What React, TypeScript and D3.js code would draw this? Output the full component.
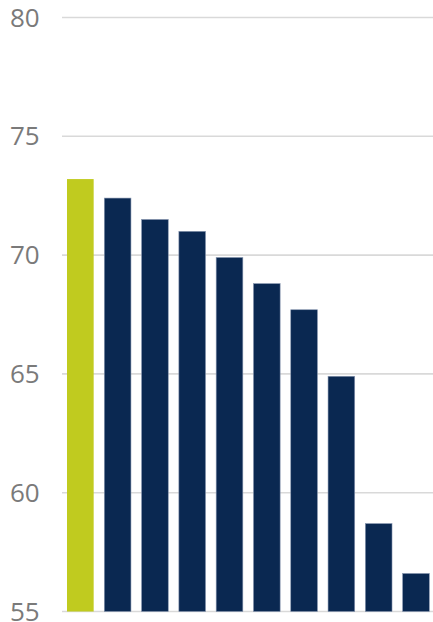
import React from "react";
import * as d3 from "d3";

const categories = ["A", "B", "C", "D", "E", "F", "G", "H", "I", "J"];
const values = [73.2, 72.4, 71.5, 71.0, 69.9, 68.8, 67.7, 64.9, 58.7, 56.6];
const highlighted = ["A"];
const yTicks = [55, 60, 65, 70, 75, 80];

const WIDTH = 433;
const HEIGHT = 622;

export default function App() {
  const x = d3
    .scaleBand<string>()
    .domain(categories)
    .range([62, 434.3])
    .paddingInner(0.285)
    .paddingOuter(0.134);

  const y = d3.scaleLinear().domain([55, 80]).range([611.5, 17.5]);

  return (
    <svg
      width={WIDTH}
      height={HEIGHT}
      style={{ position: "absolute", left: 0, top: 0, background: "#fff" }}
    >
      <g>
        {yTicks.map((t) => (
          <g key={t}>
            <line
              x1={62}
              x2={WIDTH}
              y1={y(t)}
              y2={y(t)}
              stroke="#d9d9d9"
              strokeWidth={1.6}
            />
            <text
              x={10}
              y={y(t)}
              dy="0.35em"
              fill="#7a7a7a"
              fontFamily="'Open Sans', sans-serif"
              fontSize={26}
            >
              {t}
            </text>
          </g>
        ))}
      </g>
      <g>
        {categories.map((c, i) => (
          <rect
            key={c}
            x={x(c)}
            y={y(values[i])}
            width={x.bandwidth()}
            height={y(55) - y(values[i])}
            fill={highlighted.includes(c) ? "#c0cb1f" : "#0a2851"}
            stroke={highlighted.includes(c) ? "none" : "#8796b0"}
            strokeWidth={0.6}
          />
        ))}
      </g>
    </svg>
  );
}
